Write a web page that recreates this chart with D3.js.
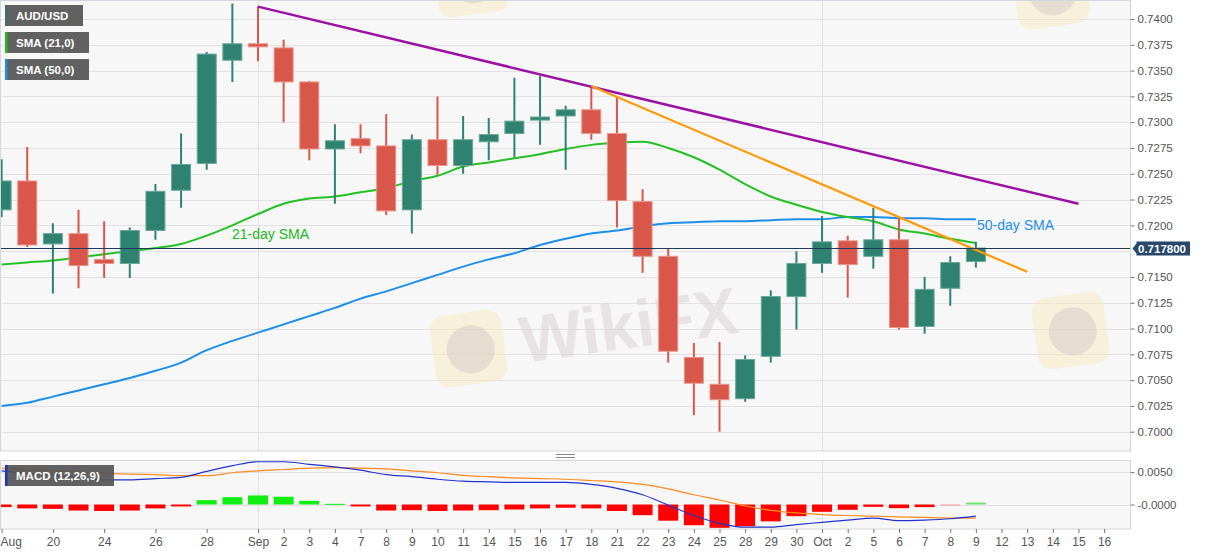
<!DOCTYPE html>
<html>
<head>
<meta charset="utf-8">
<script src="https://cdn.jsdelivr.net/npm/d3@7/dist/d3.min.js"></script>
<style>
  body { margin: 0; background: #fff; }
  svg text { font-family: "Liberation Sans", Arial, sans-serif; }
</style>
</head>
<body>
<script>
// trading days shown on the axis (last five are empty future days)
const days = ["Aug 18","Aug 19","Aug 20","Aug 21","Aug 24","Aug 25","Aug 26","Aug 27","Aug 28","Aug 31",
  "Sep 1","Sep 2","Sep 3","Sep 4","Sep 7","Sep 8","Sep 9","Sep 10","Sep 11","Sep 14","Sep 15","Sep 16",
  "Sep 17","Sep 18","Sep 21","Sep 22","Sep 23","Sep 24","Sep 25","Sep 28","Sep 29","Sep 30",
  "Oct 1","Oct 2","Oct 5","Oct 6","Oct 7","Oct 8","Oct 9","Oct 12","Oct 13","Oct 14","Oct 15","Oct 16"];
const tickText = ["Aug","","20","","24","","26","","28","",
  "Sep","2","3","4","7","8","9","10","11","14","15","16",
  "17","18","21","22","23","24","25","28","29","30",
  "Oct","2","5","6","7","8","9","12","13","14","15","16"];

// AUD/USD daily OHLC
const opens  = [0.7215,0.7243,0.7182,0.7192,0.7167,0.7163,0.7195,0.7234,0.7260,0.7360,
  0.7376,0.7372,0.7339,0.7274,0.7284,0.7277,0.7215,0.7283,0.7258,0.7281,0.7289,0.7302,
  0.7306,0.7312,0.7289,0.7223,0.7170,0.7072,0.7046,0.7032,0.7073,0.7131,
  0.7163,0.7185,0.7170,0.7186,0.7102,0.7139,0.7165];
const highs  = [0.7264,0.7276,0.7202,0.7215,0.7204,0.7198,0.7240,0.7289,0.7368,0.7415,
  0.7412,0.7380,0.7340,0.7298,0.7298,0.7308,0.7288,0.7325,0.7306,0.7304,0.7343,0.7345,
  0.7316,0.7335,0.7324,0.7235,0.7178,0.7086,0.7087,0.7074,0.7137,0.7175,
  0.7209,0.7190,0.7217,0.7207,0.7150,0.7170,0.7184];
const lows   = [0.7208,0.7179,0.7134,0.7139,0.7149,0.7149,0.7186,0.7217,0.7254,0.7339,
  0.7359,0.7300,0.7263,0.7221,0.7270,0.7210,0.7192,0.7249,0.7250,0.7263,0.7266,0.7278,
  0.7254,0.7283,0.7198,0.7154,0.7067,0.7016,0.7000,0.7029,0.7067,0.7099,
  0.7154,0.7130,0.7158,0.7099,0.7095,0.7122,0.7159];
const closes = [0.7243,0.7181,0.7192,0.7161,0.7163,0.7195,0.7233,0.7259,0.7366,0.7376,
  0.7373,0.7339,0.7274,0.7282,0.7277,0.7214,0.7283,0.7258,0.7283,0.7288,0.7301,0.7305,
  0.7312,0.7289,0.7224,0.7170,0.7078,0.7047,0.7031,0.7070,0.7131,0.7163,
  0.7184,0.7162,0.7186,0.7101,0.7138,0.7164,0.7178];

const sma21 = [0.7162,0.7164,0.7166,0.7169,0.7172,0.7175,0.7178,0.7182,0.7190,0.7200,
  0.7211,0.7221,0.7226,0.7228,0.7232,0.7236,0.7243,0.7248,0.7257,0.7261,0.7265,0.7269,
  0.7274,0.7278,0.7280,0.7281,0.7275,0.7266,0.7254,0.7240,0.7228,0.7220,
  0.7213,0.7208,0.7204,0.7196,0.7192,0.7187,0.7183];
const sma50 = [0.7025,0.7028,0.7034,0.7040,0.7046,0.7052,0.7059,0.7067,0.7079,0.7088,
  0.7096,0.7104,0.7112,0.7120,0.7129,0.7136,0.7144,0.7152,0.7160,0.7167,0.7173,0.7181,
  0.7187,0.7192,0.7195,0.7199,0.7202,0.7203,0.7204,0.7204,0.7205,0.7206,
  0.7206,0.7208,0.7208,0.7207,0.7207,0.7206,0.7206];

// hand-drawn resistance lines: [day, price]
const trendPurple = [["Sep 1",0.7412],["Oct 15",0.7221]];
const trendOrange = [["Sep 18",0.7335],["Oct 13",0.7155]];
const lastPrice = 0.7178;

// MACD (12,26,9)
const macdLine = [0.0052,0.0048,0.0045,0.0041,0.0038,0.0038,0.0040,0.0042,0.0051,0.0060,
  0.0066,0.0066,0.0062,0.0058,0.0053,0.0046,0.0043,0.0039,0.0036,0.0035,0.0034,0.0034,
  0.0034,0.0031,0.0025,0.0015,-0.0001,-0.0017,-0.0029,-0.0035,-0.0035,-0.0031,
  -0.00275,-0.0024,-0.0021,-0.0025,-0.0024,-0.0022,-0.0018];
const signalLine = [0.0056,0.0054,0.0052,0.0050,0.0048,0.0047,0.0046,0.00445,0.00445,0.0049,
  0.0052,0.0054,0.0056,0.0057,0.0056,0.0055,0.0052,0.0049,0.0045,0.0043,0.0041,0.0040,
  0.0039,0.0037,0.0035,0.0031,0.0024,0.0015,0.0007,-0.0002,-0.0009,-0.0013,
  -0.00155,-0.0017,-0.0018,-0.0019,-0.0020,-0.0021,-0.0021];
const histogram = [-0.0004,-0.0006,-0.00067,-0.00093,-0.0010,-0.00093,-0.0006,-0.0003,0.00067,0.00113,
  0.0014,0.0012,0.00057,0.0001,-0.0003,-0.00093,-0.00088,-0.0010,-0.00093,-0.00088,-0.00077,-0.0006,
  -0.0005,-0.0006,-0.0010,-0.00165,-0.0025,-0.0032,-0.0036,-0.00335,-0.0026,-0.0018,
  -0.00113,-0.00082,-0.00036,-0.00057,-0.0004,-0.0002,0.0003];

// layout
const W = 1207, H = 555;
const plotR = 1130.5, mainTop = 0.5, mainBot = 451, macdTop = 460.5, macdBot = 529;

const svg = d3.select("body").append("svg").attr("width", W).attr("height", H);

const x = d3.scalePoint().domain(days).range([1.6, 1104.1]);
const y = d3.scaleLinear().domain([0.70, 0.74]).range([431.7, 19]);
const ym = d3.scaleLinear().domain([0, 0.005]).range([504.5, 472.1]);

// panel backgrounds
svg.append("rect").attr("x", 0.5).attr("y", mainTop).attr("width", plotR - 0.5).attr("height", mainBot - mainTop)
  .attr("fill", "#f7f7f8");
svg.append("rect").attr("x", 0.5).attr("y", macdTop).attr("width", plotR - 0.5).attr("height", macdBot - macdTop)
  .attr("fill", "#f7f7f8");

const defs = svg.append("defs");
defs.append("clipPath").attr("id", "clipMain").append("rect")
  .attr("x", 0.5).attr("y", mainTop).attr("width", plotR - 0.5).attr("height", mainBot - mainTop);
defs.append("clipPath").attr("id", "clipMacd").append("rect")
  .attr("x", 0.5).attr("y", macdTop).attr("width", plotR - 0.5).attr("height", macdBot - macdTop);

// grid
const priceTicks = d3.range(0, 17).map(k => 0.70 + k * 0.0025);
svg.append("g").selectAll("line").data(priceTicks).enter().append("line")
  .attr("x1", 0.5).attr("x2", plotR)
  .attr("y1", d => Math.round(y(d)) + 0.5).attr("y2", d => Math.round(y(d)) + 0.5)
  .attr("stroke", "#e2e2e4");
svg.append("g").selectAll("line").data([0, 0.005]).enter().append("line")
  .attr("x1", 0.5).attr("x2", plotR)
  .attr("y1", d => Math.round(ym(d)) + 0.5).attr("y2", d => Math.round(ym(d)) + 0.5)
  .attr("stroke", "#e2e2e4");
svg.append("g").selectAll("line").data(["Sep 1", "Oct 1"]).enter().append("line")
  .attr("x1", d => Math.round(x(d)) + 0.5).attr("x2", d => Math.round(x(d)) + 0.5)
  .attr("y1", mainTop).attr("y2", mainBot)
  .attr("stroke", "#e2e2e4");
svg.append("g").selectAll("line").data(["Sep 1", "Oct 1"]).enter().append("line")
  .attr("x1", d => Math.round(x(d)) + 0.5).attr("x2", d => Math.round(x(d)) + 0.5)
  .attr("y1", macdTop).attr("y2", macdBot)
  .attr("stroke", "#e2e2e4");

// watermarks (faint logo tiles, one full wordmark)
const wm = svg.append("g").attr("clip-path", "url(#clipMain)");
function logo(lx, ly) {
  const g = wm.append("g").attr("transform", `translate(${lx},${ly}) rotate(-8)`);
  g.append("rect").attr("x", 0).attr("y", 0).attr("width", 72).attr("height", 72).attr("rx", 14)
    .attr("fill", "#f6e7b8").attr("opacity", 0.45);
  g.append("circle").attr("cx", 38).attr("cy", 37).attr("r", 24)
    .attr("fill", "#cfc7c4").attr("opacity", 0.45);
  return g;
}
logo(428, 318).append("text").attr("x", 88).attr("y", 58).text("WikiFX")
  .attr("font-size", 66).attr("font-weight", "bold")
  .attr("fill", "#d8d1d1").attr("opacity", 0.5);
logo(1030, 300);
logo(430, -52);
logo(1010, -40);

const main = svg.append("g").attr("clip-path", "url(#clipMain)");

// moving averages
const line = (vals, scale) => d3.line()
  .x((d, i) => x(days[i]))
  .y(d => scale(d))
  .curve(d3.curveMonotoneX)(vals);

main.append("path").attr("d", line(sma50, y)).attr("fill", "none")
  .attr("stroke", "#1e8fe8").attr("stroke-width", 2);
main.append("path").attr("d", line(sma21, y)).attr("fill", "none")
  .attr("stroke", "#25c025").attr("stroke-width", 2);

// candles
const up = "#2f8270", down = "#d8574a";
const candles = closes.map((c, i) => ({ day: days[i], o: opens[i], h: highs[i], l: lows[i], c: c }));
const cg = main.append("g").selectAll("g").data(candles).enter().append("g");
cg.append("line")
  .attr("x1", d => x(d.day)).attr("x2", d => x(d.day))
  .attr("y1", d => y(d.h)).attr("y2", d => y(d.l))
  .attr("stroke", d => d.c >= d.o ? up : down).attr("stroke-width", 2);
cg.append("rect")
  .attr("x", d => x(d.day) - 9.5).attr("width", 19)
  .attr("y", d => y(Math.max(d.o, d.c)))
  .attr("height", d => Math.max(2, Math.abs(y(d.o) - y(d.c))))
  .attr("fill", d => d.c >= d.o ? up : down)
  .attr("stroke", d => d.c >= d.o ? "#6aa899" : "#e8958b").attr("stroke-width", 1);

// trend lines
const tline = d3.line().x(d => x(d[0])).y(d => y(d[1]));
main.append("path").attr("d", tline(trendPurple)).attr("fill", "none")
  .attr("stroke", "#9b12a3").attr("stroke-width", 2.5);
main.append("path").attr("d", tline(trendOrange)).attr("fill", "none")
  .attr("stroke", "#ff9a0a").attr("stroke-width", 2.2);

// last price line
svg.append("line").attr("x1", 0.5).attr("x2", plotR)
  .attr("y1", Math.round(y(lastPrice)) + 0.5).attr("y2", Math.round(y(lastPrice)) + 0.5)
  .attr("stroke", "#1d3a5c").attr("stroke-width", 1);

// annotations
svg.append("text").attr("x", 232).attr("y", 239).text("21-day SMA")
  .attr("font-size", 14).attr("fill", "#22b822");
svg.append("text").attr("x", 977).attr("y", 230).text("50-day SMA")
  .attr("font-size", 14).attr("fill", "#1e8fe8");

// MACD panel
const mg = svg.append("g").attr("clip-path", "url(#clipMacd)");
mg.selectAll("rect").data(histogram).enter().append("rect")
  .attr("x", (d, i) => x(days[i]) - 10).attr("width", 20)
  .attr("y", d => d >= 0 ? ym(d) : ym(0))
  .attr("height", d => Math.max(1, Math.abs(ym(d) - ym(0))))
  .attr("fill", (d, i) => i >= 37 ? (d >= 0 ? "#6fe36f" : "#f2a4a4") : (d >= 0 ? "#11ee11" : "#ff0000"));
mg.append("path").attr("d", line(signalLine, ym)).attr("fill", "none")
  .attr("stroke", "#ff8a1f").attr("stroke-width", 1.2);
mg.append("path").attr("d", line(macdLine, ym)).attr("fill", "none")
  .attr("stroke", "#2233cc").attr("stroke-width", 1.2);

// panel borders
svg.append("rect").attr("x", 0.5).attr("y", mainTop).attr("width", plotR - 0.5).attr("height", mainBot - mainTop)
  .attr("fill", "none").attr("stroke", "#d3d6de");
svg.append("rect").attr("x", 0.5).attr("y", macdTop).attr("width", plotR - 0.5).attr("height", macdBot - macdTop)
  .attr("fill", "none").attr("stroke", "#d3d6de");

// panel resize handle
svg.append("g").selectAll("line").data([454.5, 457.5]).enter().append("line")
  .attr("x1", 556).attr("x2", 575).attr("y1", d => d).attr("y2", d => d)
  .attr("stroke", "#8a8a8a");

// axes
function styleAxis(g) {
  g.select(".domain").remove();
  g.selectAll(".tick line").attr("stroke", "#777");
  g.selectAll(".tick text").attr("fill", "#555").attr("font-size", 11.5)
    .attr("font-family", "\"Liberation Sans\", Arial, sans-serif");
}
// the price tag hides the 0.7175 label
const labelledPrices = priceTicks.filter(p => Math.abs(y(p) - y(lastPrice)) > 8);
svg.append("g").attr("transform", `translate(${plotR},0)`)
  .call(d3.axisRight(y).tickValues(labelledPrices).tickSize(4).tickPadding(3).tickFormat(d3.format(".4f")))
  .call(styleAxis);
svg.append("g").attr("transform", `translate(${plotR},0)`)
  .call(d3.axisRight(ym).tickValues([0.005, 0]).tickSize(4).tickPadding(3)
    .tickFormat(d => d === 0 ? "-0.0000" : d3.format(".4f")(d)))
  .call(styleAxis);

const labelled = days.filter((d, i) => tickText[i] !== "");
const xAxis = svg.append("g").attr("transform", `translate(0,${macdBot})`)
  .call(d3.axisBottom(x).tickValues(labelled).tickSize(4).tickPadding(4)
    .tickFormat(d => tickText[days.indexOf(d)]))
  .call(styleAxis);
xAxis.selectAll(".tick text").filter(d => d === "Aug 18").attr("text-anchor", "start").attr("x", -1.6);
xAxis.selectAll(".tick text").attr("font-size", 12);

// last price tag
const ty = Math.round(y(lastPrice)) + 0.5;
const tag = svg.append("g");
tag.append("path")
  .attr("d", `M${plotR + 2},${ty} L${plotR + 6},${ty - 5} L${plotR + 6},${ty - 7} L1190,${ty - 7} L1190,${ty + 7} L${plotR + 6},${ty + 7} L${plotR + 6},${ty + 5} Z`)
  .attr("fill", "#27476b");
tag.append("text").attr("x", 1162).attr("y", ty + 4).attr("text-anchor", "middle")
  .text(lastPrice.toFixed(6)).attr("fill", "#fff").attr("font-size", 11.5).attr("font-weight", "bold");

// legend boxes
const legends = [
  { label: "AUD/USD", color: "#3c6f67", x: 5, y: 5, w: 78 },
  { label: "SMA (21,0)", color: "#22b822", x: 5, y: 32, w: 84 },
  { label: "SMA (50,0)", color: "#1e8fe8", x: 5, y: 59, w: 84 },
  { label: "MACD (12,26,9)", color: "#1f33b8", x: 5, y: 465, w: 109 }
];
const lg = svg.append("g").selectAll("g").data(legends).enter().append("g")
  .attr("transform", d => `translate(${d.x},${d.y})`);
lg.append("rect").attr("width", d => d.w).attr("height", 21).attr("fill", "#555").attr("opacity", 0.93);
lg.append("rect").attr("width", 2.5).attr("height", 21).attr("fill", d => d.color);
lg.append("text").attr("x", 11).attr("y", 15).text(d => d.label)
  .attr("fill", "#fff").attr("font-size", 11.5).attr("font-weight", "bold");
</script>
</body>
</html>
